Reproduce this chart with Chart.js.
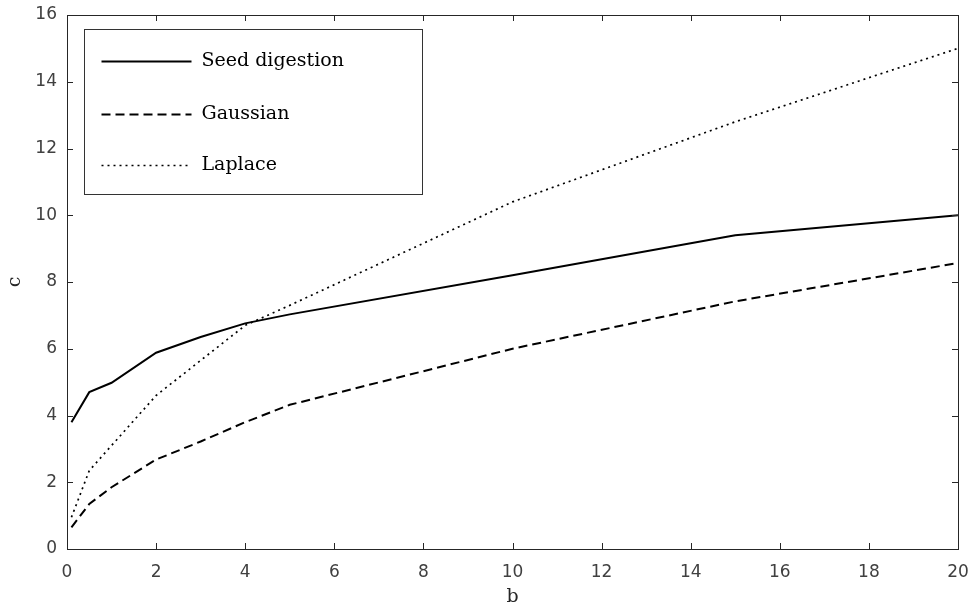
<!DOCTYPE html>
<html>
<head>
<meta charset="utf-8">
<script src="https://cdn.jsdelivr.net/npm/chart.js@4.4.1/dist/chart.umd.min.js"></script>
<style>
  html, body { margin: 0; padding: 0; background: #fff; }
  #wrap { width: 972px; height: 606px; }
</style>
</head>
<body>
<div id="wrap"><canvas id="myChart" width="972" height="606"></canvas></div>
<script>
// values
const bValues = [0.1, 0.5, 1, 2, 3, 4, 5, 10, 15, 20];
const seedDigestion = [3.8, 4.7, 4.98, 5.88, 6.35, 6.76, 7.03, 8.2, 9.4, 10.0];
const gaussian = [0.65, 1.35, 1.85, 2.68, 3.22, 3.8, 4.32, 6.0, 7.42, 8.57];
const laplace = [0.95, 2.35, 3.1, 4.6, 5.65, 6.7, 7.3, 10.4, 12.8, 15.0];

const seriesNames = ['Seed digestion', 'Gaussian', 'Laplace'];
const xTicks = [0, 2, 4, 6, 8, 10, 12, 14, 16, 18, 20];
const yTicks = [0, 2, 4, 6, 8, 10, 12, 14, 16];

const toPoints = (ys) => bValues.map((b, i) => ({ x: b, y: ys[i] }));

const frameColor = '#262626';

// MATLAB-like box with inward ticks
const boxPlugin = {
  id: 'box',
  afterDraw(chart) {
    const ctx = chart.ctx;
    const a = chart.chartArea;
    const xs = chart.scales.x, ys = chart.scales.y;
    const len = 6;
    ctx.save();
    ctx.strokeStyle = frameColor;
    ctx.lineWidth = 1;
    ctx.beginPath();
    xs.ticks.forEach(t => {
      const px = Math.round(xs.getPixelForValue(t.value)) + 0.5;
      ctx.moveTo(px, a.bottom); ctx.lineTo(px, a.bottom - len);
      ctx.moveTo(px, a.top); ctx.lineTo(px, a.top + len);
    });
    ys.ticks.forEach(t => {
      const py = Math.round(ys.getPixelForValue(t.value)) + 0.5;
      ctx.moveTo(a.left, py); ctx.lineTo(a.left + len, py);
      ctx.moveTo(a.right, py); ctx.lineTo(a.right - len, py);
    });
    ctx.stroke();
    ctx.strokeRect(Math.round(a.left) + 0.5, Math.round(a.top) + 0.5,
                   Math.round(a.right - a.left), Math.round(a.bottom - a.top));

    // legend box in the upper left corner
    const lx = Math.round(a.left) + 17.5, ly = Math.round(a.top) + 14.5;
    const lw = 338, lh = 165;
    ctx.fillStyle = '#fff';
    ctx.fillRect(lx, ly, lw, lh);
    ctx.strokeStyle = '#333';
    ctx.strokeRect(lx, ly, lw, lh);
    const rows = [32, 85, 136];
    ctx.font = '19px "DejaVu Serif"';
    ctx.textBaseline = 'middle';
    chart.data.datasets.forEach((ds, i) => {
      const y = ly + rows[i];
      ctx.strokeStyle = ds.borderColor;
      ctx.lineWidth = ds.borderWidth;
      ctx.setLineDash(ds.borderDash || []);
      ctx.beginPath();
      ctx.moveTo(lx + 17, y); ctx.lineTo(lx + 107, y);
      ctx.stroke();
      ctx.setLineDash([]);
      ctx.fillStyle = '#000';
      ctx.fillText(ds.label, lx + 117, y);
    });
    ctx.restore();
  }
};

const config = {
  type: 'line',
  data: {
    datasets: [{
      label: seriesNames[0],
      data: toPoints(seedDigestion),
      borderColor: '#000',
      borderWidth: 2,
      pointRadius: 0,
      tension: 0
    }, {
      label: seriesNames[1],
      data: toPoints(gaussian),
      borderColor: '#000',
      borderWidth: 2,
      borderDash: [9, 5],
      pointRadius: 0,
      tension: 0
    }, {
      label: seriesNames[2],
      data: toPoints(laplace),
      borderColor: '#000',
      borderWidth: 1.7,
      borderDash: [2, 4],
      pointRadius: 0,
      tension: 0
    }]
  },
  options: {
    responsive: false,
    animation: false,
    layout: { padding: { top: 15, right: 14, left: 0, bottom: 0 } },
    plugins: {
      legend: { display: false },
      tooltip: { enabled: false }
    },
    scales: {
      x: {
        type: 'linear',
        min: 0, max: 20,
        afterBuildTicks: (s) => { s.ticks = xTicks.map(v => ({ value: v })); },
        afterFit: (s) => { s.height = 57; s.paddingLeft = 0; s.paddingRight = 0; },
        grid: { display: false, drawTicks: false },
        border: { display: false },
        ticks: { color: '#404040', padding: 13, font: { family: 'DejaVu Sans', size: 17 } },
        title: { display: true, text: 'b', color: '#262626', padding: { top: 0, bottom: -2 },
                 font: { family: 'DejaVu Serif', size: 19 } }
      },
      y: {
        type: 'linear',
        min: 0, max: 16,
        afterBuildTicks: (s) => { s.ticks = yTicks.map(v => ({ value: v })); },
        afterFit: (s) => { s.width = 67; s.paddingTop = 0; s.paddingBottom = 0; },
        grid: { display: false, drawTicks: false },
        border: { display: false },
        ticks: { color: '#404040', padding: 10, font: { family: 'DejaVu Sans', size: 17 } },
        title: { display: true, text: 'c', color: '#262626', padding: 4,
                 font: { family: 'DejaVu Serif', size: 19 } }
      }
    }
  },
  plugins: [boxPlugin]
};

var ctx = document.getElementById('myChart').getContext('2d');
var chart = new Chart(ctx, config);
</script>
</body>
</html>
